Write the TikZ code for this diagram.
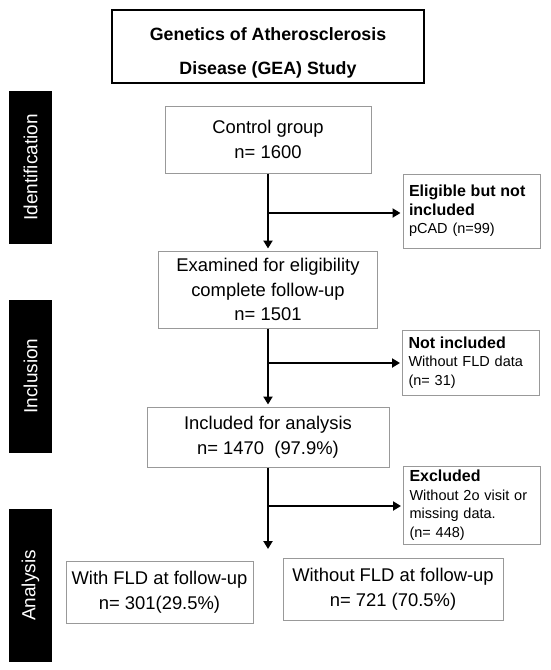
\documentclass[tikz,border=0pt]{standalone}
\usepackage{fontspec}
\setmainfont{Liberation Sans}
\usetikzlibrary{arrows.meta,calc}
\begin{document}
\begin{tikzpicture}[x=1pt,y=-1pt,
  titlebox/.style={draw=black, line width=2.6pt, minimum width=312pt, minimum height=73pt, inner sep=0pt},
  titletext/.style={anchor=base, inner sep=0pt, font=\fontsize{17.8}{35}\selectfont\bfseries},
  mainbox/.style={draw=black!40, line width=1pt, fill=white, align=center, inner sep=0pt,
    font=\fontsize{18.4}{24.5}\selectfont},
  sidebox/.style={draw=black!40, line width=1pt, fill=white, align=left, inner xsep=6pt, inner ysep=0pt,
    text width=125pt, font=\fontsize{14.5}{18.5}\selectfont},
  sidebar/.style={fill=black, text=white, minimum width=153pt, minimum height=43pt, inner sep=0pt,
    rotate=90, font=\fontsize{19}{22}\selectfont},
  arr/.style={line width=2.4pt, -{Triangle[length=8pt,width=9pt]}, shorten >=2pt}
]
\useasboundingbox (0,0) rectangle (550,670);
\fill[white] (0,0) rectangle (550,670);

% title
\node[titlebox] (title) at (268,46.5) {};
\node[titletext] (title1) at (268,40) {Genetics of Atherosclerosis};
\node[titletext] (title2) at (268,74) {Disease (GEA) Study};

% side bars
\node[sidebar] (idbar) at (30.5,167.5) {Identification};
\node[sidebar] (incbar) at (30.5,376) {Inclusion};
\node[sidebar] (anbar) at (30.5,585.5) {Analysis};

% main boxes
\node[mainbox, minimum width=206pt, minimum height=67pt] (control) at (268,139.5) {Control group\\n= 1600};
\node[mainbox, minimum width=219pt, minimum height=77pt] (exam) at (268,289.5) {Examined for eligibility\\complete follow-up\\n= 1501};
\node[mainbox, minimum width=242pt, minimum height=60pt] (incl) at (268,437) {Included for analysis\\n= 1470~~(97.9\%)};
\node[mainbox, minimum width=187pt, minimum height=62pt] (withfld) at (159.5,592) {With FLD at follow-up\\n= 301(29.5\%)};
\node[mainbox, minimum width=220pt, minimum height=62pt] (withoutfld) at (393,589) {Without FLD at follow-up\\n= 721 (70.5\%)};

% side boxes
\node[sidebox, minimum height=74pt] (elig) at (471.5,211) {{\fontsize{16}{18.5}\selectfont\bfseries Eligible but not\\included}\\pCAD (n=99)};
\node[sidebox, minimum height=65pt] (notinc) at (471,362.5) {{\fontsize{16}{18.5}\selectfont\bfseries Not included}\\Without FLD data\\(n= 31)};
\node[sidebox, minimum height=78pt] (excl) at (472,505) {{\fontsize{16}{18.5}\selectfont\bfseries Excluded}\\Without 2o visit or\\missing data.\\(n= 448)};

% connectors
\coordinate (b1) at (268,213);
\coordinate (b2) at (268,363);
\coordinate (b3) at (268,506);
\coordinate (endpt) at (268,549);

\draw[arr] (control.south) -- (exam.north);
\draw[arr] (b1) -- (b1 -| elig.west);
\draw[arr] (exam.south) -- (incl.north);
\draw[arr] (b2) -- (b2 -| notinc.west);
\draw[arr, shorten >=0pt] (incl.south) -- (endpt);
\draw[arr] (b3) -- (b3 -| excl.west);
\end{tikzpicture}
\end{document}
